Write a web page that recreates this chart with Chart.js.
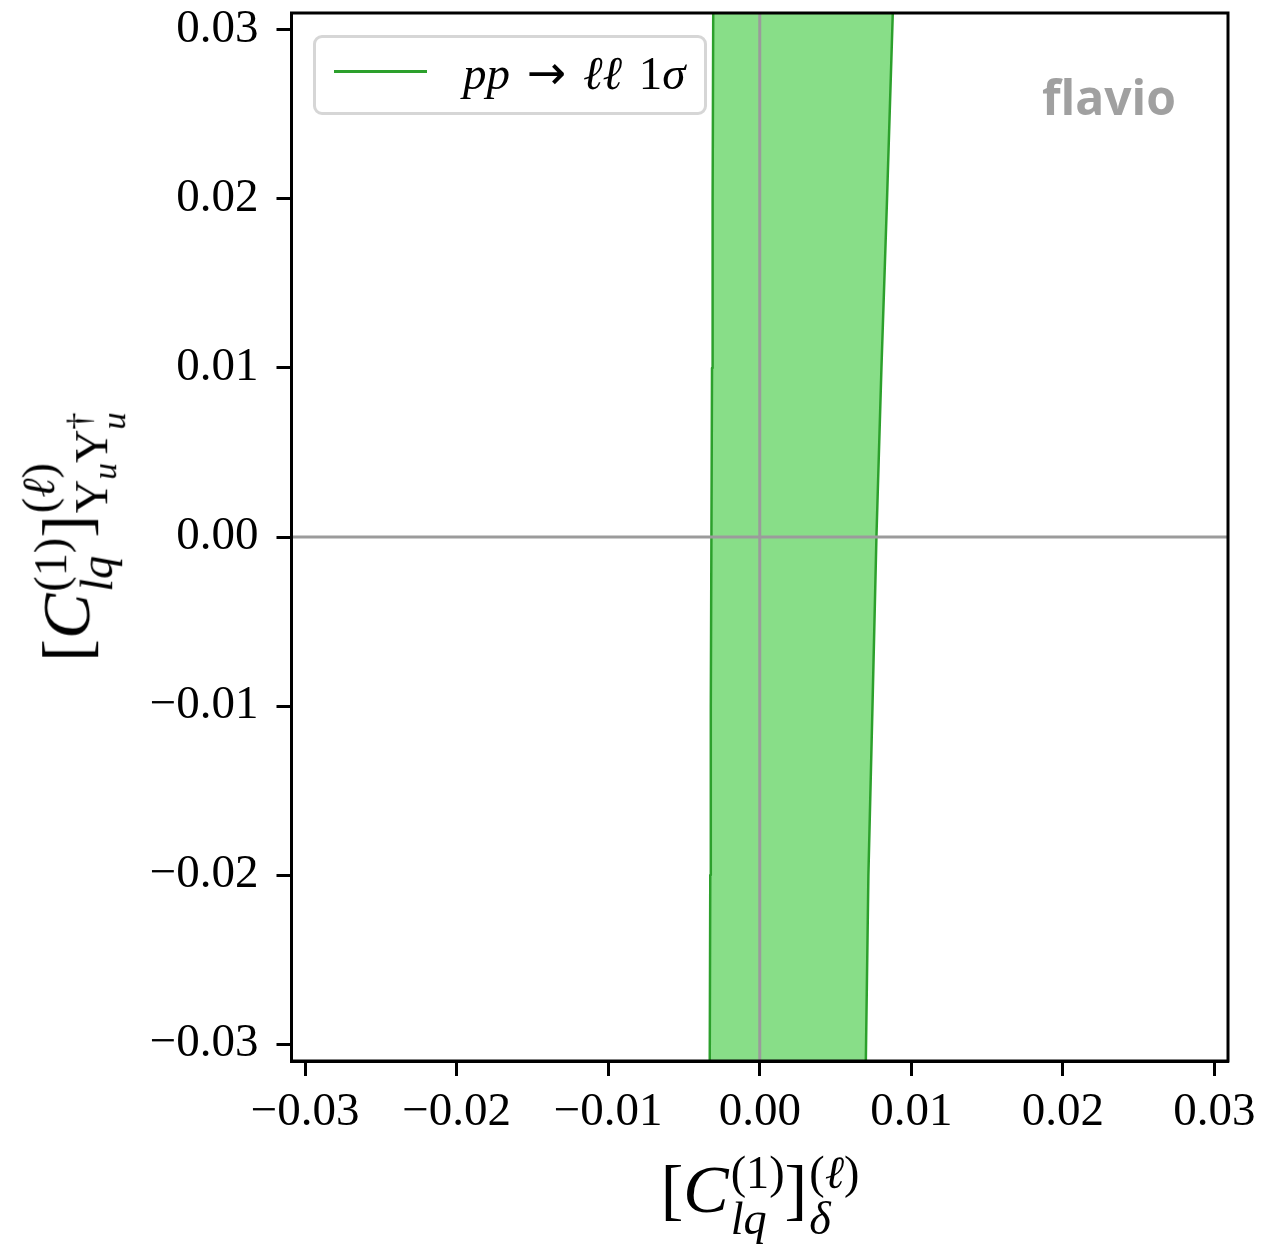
<!DOCTYPE html>
<html>
<head>
<meta charset="utf-8">
<script src="https://cdn.jsdelivr.net/npm/chart.js@4"></script>
<style>
  body { margin: 0; background: #fff; }
  #wrap { position: relative; width: 1261px; height: 1248px; }
  canvas { position: absolute; left: 0; top: 0; }
  .math { position: absolute; font-family: "Liberation Serif", serif; font-size: 68px; white-space: nowrap; line-height: 1; color: #000; }
  .ss { display: inline-flex; flex-direction: column; vertical-align: middle; font-size: 0.68em; line-height: 1.0; margin-left: 2px; }
  .ss2 { display: inline-flex; flex-direction: column; vertical-align: middle; font-size: 0.75em; line-height: 1.0; }
  .lo { font-size: 0.72em; vertical-align: -0.25em; }
  #legend { position: absolute; left: 313px; top: 35px; width: 388px; height: 74px; border: 3px solid #d6d6d6; border-radius: 9px; background: rgba(255,255,255,0.8); }
  #legline { position: absolute; left: 18px; top: 32px; width: 93px; height: 3px; background: #2ca02c; }
  #legtext { position: absolute; left: 147px; top: 11px; font-family: "Liberation Serif", serif; font-size: 47px; line-height: 1; white-space: nowrap; word-spacing: 5px; }
  .arr { font-family: "DejaVu Sans", sans-serif; font-size: 1.0em; }
  #flavio { position: absolute; left: 1042px; top: 73px; font-family: "Open Sans", sans-serif; font-weight: 700; font-size: 48px; color: #a0a0a0; line-height: 1; }
</style>
</head>
<body>
<div id="wrap">
  <canvas id="chart" width="1261" height="1248"></canvas>
  <div id="legend"><div id="legline"></div><div id="legtext"><i>pp</i> <span class="arr">→</span> <i>ℓℓ</i> 1<i>σ</i></div></div>
  <div id="flavio">flavio</div>
  <div class="math" id="xtitle" style="left:760px; top:1150px; transform:translateX(-50%);">[<i>C</i><span class="ss"><span>(1)</span><span><i>lq</i></span></span>]<span class="ss"><span>(<i>ℓ</i>)</span><span><i>δ</i></span></span></div>
  <div class="math" id="ytitle" style="left:74px; top:537px; transform:translate(-50%,-50%) rotate(-90deg);">[<i>C</i><span class="ss"><span>(1)</span><span><i>lq</i></span></span>]<span class="ss"><span>(<i>ℓ</i>)</span><span>Y<span class="lo"><i>u</i></span>Y<span class="ss2"><span>†</span><span><i>u</i></span></span></span></span></div>
</div>
<script>
// axis ticks and limits
var xTicks = [-0.03, -0.02, -0.01, 0.0, 0.01, 0.02, 0.03];
var yTicks = [-0.03, -0.02, -0.01, 0.0, 0.01, 0.02, 0.03];
var xLim = [-0.0309, 0.0309];
var yLim = [-0.031, 0.031];

// 1 sigma band edges (x as a function of y)
var edgeY = [-0.031, -0.02, -0.01, 0.0, 0.01, 0.02, 0.031];
var leftEdgeX = [-0.0033, -0.003265, -0.00323, -0.00319, -0.00315, -0.00311, -0.00307];
var rightEdgeX = [0.0070, 0.00717, 0.00744, 0.0077, 0.00803, 0.0084, 0.00878];

var green = "#2ca02c";
var greenFill = "#88de88";
var gray = "#9b9b9b";

function pts(xs, ys) {
  return xs.map(function (x, i) { return { x: x, y: ys[i] }; });
}

var leftPts = pts(leftEdgeX, edgeY);
var rightPts = pts(rightEdgeX, edgeY);
var bandPts = leftPts.concat(rightPts.slice().reverse());

function fmt(v) {
  var s = Math.abs(v).toFixed(2);
  return v < -1e-9 ? "\u2212" + s : s;
}

var frame = {
  id: "frame",
  afterDraw: function (chart) {
    var a = chart.chartArea, ctx = chart.ctx;
    ctx.save();
    ctx.strokeStyle = "#000";
    ctx.lineWidth = 3;
    ctx.strokeRect(a.left, a.top, a.right - a.left, a.bottom - a.top);
    ctx.restore();
  }
};

var tickFont = { family: "Liberation Serif", size: 47 };

var ctx = document.getElementById("chart").getContext("2d");
var myChart = new Chart(ctx, {
  type: "scatter",
  data: {
    datasets: [
      { data: [{ x: 0, y: yLim[0] }, { x: 0, y: yLim[1] }], showLine: true, borderColor: gray, borderWidth: 3, pointRadius: 0, order: 0 },
      { data: [{ x: xLim[0], y: 0 }, { x: xLim[1], y: 0 }], showLine: true, borderColor: gray, borderWidth: 3, pointRadius: 0, order: 0 },
      { data: leftPts, showLine: true, borderColor: green, borderWidth: 2.5, borderJoinStyle: "round", pointRadius: 0, order: 1 },
      { data: rightPts, showLine: true, borderColor: green, borderWidth: 2.5, borderJoinStyle: "round", pointRadius: 0, order: 1 },
      { data: bandPts, showLine: true, fill: "shape", backgroundColor: greenFill, borderColor: "transparent", borderWidth: 1, pointRadius: 0, order: 2 }
    ]
  },
  options: {
    responsive: false,
    animation: false,
    events: [],
    layout: { padding: { top: 13, right: 33, left: 0, bottom: 0 } },
    plugins: { legend: { display: false }, tooltip: { enabled: false } },
    scales: {
      x: {
        type: "linear",
        min: xLim[0],
        max: xLim[1],
        afterBuildTicks: function (s) { s.ticks = xTicks.map(function (v) { return { value: v }; }); },
        afterFit: function (s) { s.height = 187; s.paddingLeft = 0; s.paddingRight = 0; },
        ticks: { font: tickFont, color: "#000", padding: 8, maxRotation: 0, autoSkip: false, callback: function (v) { return fmt(v); } },
        grid: { drawOnChartArea: false, tickLength: 15, tickWidth: 3, tickColor: "#000" },
        border: { color: "#000", width: 3 }
      },
      y: {
        type: "linear",
        min: yLim[0],
        max: yLim[1],
        afterBuildTicks: function (s) { s.ticks = yTicks.map(function (v) { return { value: v }; }); },
        afterFit: function (s) { s.width = 291.5; s.paddingTop = 0; s.paddingBottom = 0; },
        ticks: { font: tickFont, color: "#000", padding: 18, autoSkip: false, callback: function (v) { return fmt(v); } },
        grid: { drawOnChartArea: false, tickLength: 15, tickWidth: 3, tickColor: "#000" },
        border: { color: "#000", width: 3 }
      }
    }
  },
  plugins: [frame]
});
</script>
</body>
</html>
